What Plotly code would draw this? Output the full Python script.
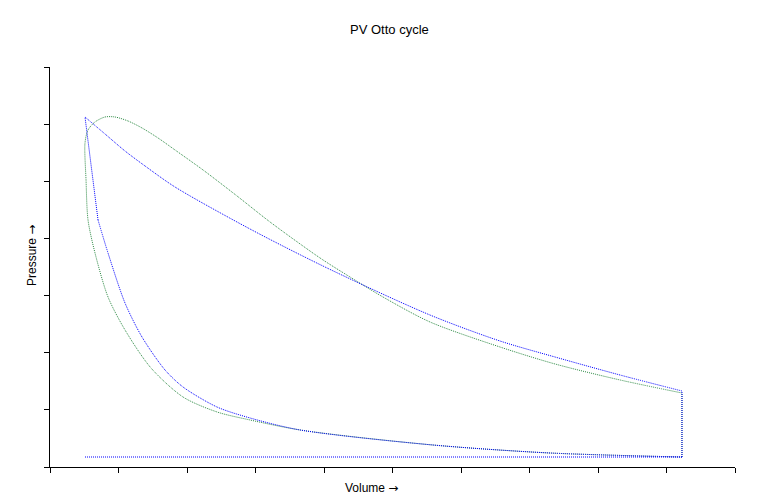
import plotly.graph_objects as go

# ---- data (volume, pressure) in axis units ----
# intake / exhaust line (shared by both cycles)
intake_v = [0.511, 9.226]
intake_p = [0.175, 0.175]

# blow-down at maximum volume
blue_blow_v = [9.226, 9.226]
blue_blow_p = [0.175, 1.330]
green_blow_v = [9.226, 9.226]
green_blow_p = [0.175, 1.295]

# blue cycle: compression, combustion, expansion
blue_comp_v = [9.226, 7.299, 5.591, 3.650, 2.920, 2.438, 1.942, 1.679, 1.343, 1.095, 0.847, 0.701]
blue_comp_p = [0.175, 0.245, 0.385, 0.648, 0.858, 1.050, 1.400, 1.698, 2.275, 2.870, 3.745, 4.323]
blue_comb_v = [0.701, 0.511]
blue_comb_p = [4.323, 6.125]
blue_exp_v = [0.511, 0.803, 1.095, 1.387, 1.825, 2.920, 4.044, 5.547, 6.569, 7.372, 8.321, 9.226]
blue_exp_p = [6.125, 5.828, 5.530, 5.268, 4.900, 4.165, 3.483, 2.660, 2.205, 1.925, 1.610, 1.330]

# green cycle: compression -> rounded combustion -> expansion (one continuous curve)
green_v = [9.226, 7.299, 5.591, 3.650, 2.920, 2.438, 1.942, 1.474, 1.095, 0.847, 0.657, 0.555,
           0.526, 0.511, 0.555, 0.657, 0.803, 0.949, 1.139, 1.343, 1.577, 1.825, 2.234, 2.730,
           3.212, 3.942, 4.380, 4.861, 5.547, 6.569, 7.372, 8.321, 9.226]
green_p = [0.175, 0.245, 0.385, 0.648, 0.823, 0.963, 1.225, 1.733, 2.398, 2.975, 3.745, 4.323,
           5.023, 5.670, 5.898, 6.038, 6.125, 6.125, 6.055, 5.933, 5.758, 5.548, 5.198, 4.743,
           4.288, 3.658, 3.325, 2.975, 2.538, 2.100, 1.803, 1.523, 1.295]

x_ticks = list(range(0, 11))
y_ticks = list(range(0, 8))

BLUE = "#0000ff"
GREEN = "#2e8b45"
DOTS = "1px,1px"

fig = go.Figure()


def seg(v, p, color, shape):
    line = dict(color=color, width=1, shape=shape, dash=DOTS)
    if shape == "spline":
        line["smoothing"] = 0.8
    fig.add_trace(go.Scatter(x=v, y=p, mode="lines", line=line, hoverinfo="skip"))


# green first, blue on top
seg(green_v, green_p, GREEN, "spline")
seg(green_blow_v, green_blow_p, GREEN, "linear")

seg(blue_comp_v, blue_comp_p, BLUE, "spline")
seg(blue_comb_v, blue_comb_p, BLUE, "linear")
seg(blue_exp_v, blue_exp_p, BLUE, "spline")
seg(blue_blow_v, blue_blow_p, BLUE, "linear")
seg(intake_v, intake_p, BLUE, "linear")

ARROW = '<span style="font-family:DejaVu Sans">→</span>'

# page body adds an 8px margin; the figure is sized so that the page is 760x502
fig.update_layout(
    width=744, height=486,
    margin=dict(l=42, r=17, t=59, b=27, pad=0),
    paper_bgcolor="white", plot_bgcolor="white",
    showlegend=False,
    font=dict(family="Liberation Sans, Arial, sans-serif", size=12, color="black"),
    annotations=[
        dict(text="PV Otto cycle", xref="paper", yref="paper",
             x=0.495, y=1 + 37 / 400, xanchor="center", yanchor="middle",
             showarrow=False, font=dict(size=13, color="black")),
        dict(text="Volume " + ARROW, xref="paper", yref="paper",
             x=(371 - 50) / 685, y=-(488 - 467) / 400, xanchor="center", yanchor="middle",
             showarrow=False, font=dict(size=12, color="black")),
        dict(text="Pressure " + ARROW, xref="paper", yref="paper",
             x=-(50 - 32) / 685, y=(467 - 256) / 400, xanchor="center", yanchor="middle",
             textangle=-90, showarrow=False, font=dict(size=12, color="black")),
    ],
)
fig.update_xaxes(range=[0, 10], tickvals=x_ticks, showticklabels=False,
                 ticks="outside", ticklen=5, tickcolor="black", tickwidth=1,
                 showline=True, linecolor="black", linewidth=1, showgrid=False,
                 zeroline=False, automargin=False)
fig.update_yaxes(range=[0, 7], tickvals=y_ticks, showticklabels=False,
                 ticks="outside", ticklen=5, tickcolor="black", tickwidth=1,
                 showline=True, linecolor="black", linewidth=1, showgrid=False,
                 zeroline=False, automargin=False)

fig.write_html("out.html")
